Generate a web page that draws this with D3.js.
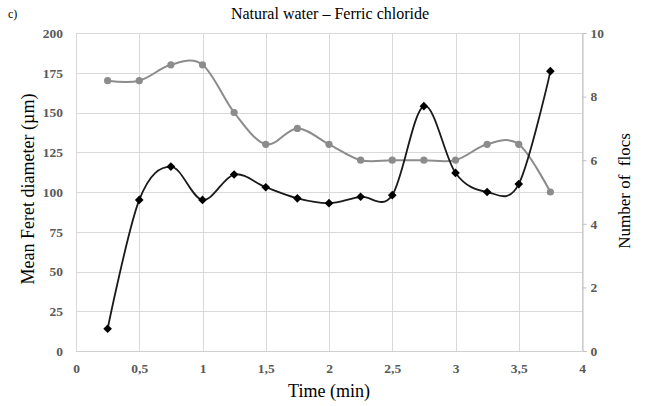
<!DOCTYPE html>
<html>
<head>
<meta charset="utf-8">
<script src="https://cdn.jsdelivr.net/npm/d3@7"></script>
<style>
  html, body { margin: 0; padding: 0; background: #fff; }
  svg { display: block; }
  svg text { font-family: "Liberation Serif", "DejaVu Serif", "Times New Roman", serif !important; }
</style>
</head>
<body>
<svg id="chart" width="645" height="406"></svg>
<script>
// ---- data ----
const times = [0.25, 0.5, 0.75, 1, 1.25, 1.5, 1.75, 2, 2.25, 2.5, 2.75, 3, 3.25, 3.5, 3.75];
const feretDiameter = [14, 95, 116, 95, 111, 103, 96, 93, 97, 98, 154, 112, 100, 105, 176];
const numberOfFlocs = [8.5, 8.5, 9, 9, 7.5, 6.5, 7, 6.5, 6, 6, 6, 6, 6.5, 6.5, 5];
const xTicks = [0, 0.5, 1, 1.5, 2, 2.5, 3, 3.5, 4];
const xTickLabels = ["0", "0,5", "1", "1,5", "2", "2,5", "3", "3,5", "4"];
const leftTicks = [0, 25, 50, 75, 100, 125, 150, 175, 200];
const rightTicks = [0, 2, 4, 6, 8, 10];
const titleText = "Natural water \u2013 Ferric chloride";
const panelLabel = "c)";
const xTitle = "Time (min)";
const leftTitle = "Mean Feret diameter (\u00b5m)";
const rightTitle = "Number of\u00a0 flocs";

// ---- layout ----
const svg = d3.select("#chart");
const L = 76, R = 582, T = 33, B = 351;

const x = d3.scaleLinear().domain([0, 4]).range([L, R]);
const yL = d3.scaleLinear().domain([0, 200]).range([B, T]);
const yR = d3.scaleLinear().domain([0, 10]).range([B, T]);

const gridColor = "#d9d9d9";
const labelColor = "#595959";

// gridlines
svg.append("g").selectAll("line").data(leftTicks).join("line")
  .attr("x1", L).attr("x2", R)
  .attr("y1", d => Math.round(yL(d)) + 0.5).attr("y2", d => Math.round(yL(d)) + 0.5)
  .attr("stroke", gridColor).attr("stroke-width", 1);
svg.append("g").selectAll("line").data(xTicks).join("line")
  .attr("y1", T).attr("y2", B)
  .attr("x1", d => Math.round(x(d)) + 0.5).attr("x2", d => Math.round(x(d)) + 0.5)
  .attr("stroke", gridColor).attr("stroke-width", 1);

// bottom axis line
svg.append("line").attr("x1", L).attr("x2", R)
  .attr("y1", B + 0.5).attr("y2", B + 0.5).attr("stroke", "#cfcfcf");

function styleLabels(sel) {
  sel.attr("fill", labelColor).attr("font-size", 13.5).attr("font-weight", "bold");
}

// right axis
const rightAxis = svg.append("g")
  .attr("transform", `translate(${Math.round(R) + 0.5},0)`)
  .call(d3.axisRight(yR).tickValues(rightTicks).tickSize(4).tickPadding(4).tickFormat(d3.format("d")));
rightAxis.select(".domain").attr("stroke", "#bfbfbf");
rightAxis.selectAll(".tick line").attr("stroke", "#bfbfbf");
styleLabels(rightAxis.selectAll("text"));

// left axis labels
const leftAxis = svg.append("g")
  .attr("transform", `translate(${L},0)`)
  .call(d3.axisLeft(yL).tickValues(leftTicks).tickSize(0).tickPadding(13));
leftAxis.select(".domain").remove();
styleLabels(leftAxis.selectAll("text"));

// bottom axis labels
const bottomAxis = svg.append("g")
  .attr("transform", `translate(0,${B})`)
  .call(d3.axisBottom(x).tickValues(xTicks).tickSize(0).tickPadding(12)
    .tickFormat((d, i) => xTickLabels[i]));
bottomAxis.select(".domain").remove();
styleLabels(bottomAxis.selectAll("text"));

// lines
const curve = d3.curveCardinal.tension(0);
const lineFlocs = d3.line().x((d, i) => x(times[i])).y(d => yR(d)).curve(curve);
const lineFeret = d3.line().x((d, i) => x(times[i])).y(d => yL(d)).curve(curve);

const grey = "#8c8c8c";
const dark = "#1a1a1a";

svg.append("path").datum(numberOfFlocs)
  .attr("d", lineFlocs).attr("fill", "none")
  .attr("stroke", grey).attr("stroke-width", 2);
svg.append("g").selectAll("circle").data(numberOfFlocs).join("circle")
  .attr("cx", (d, i) => x(times[i])).attr("cy", d => yR(d))
  .attr("r", 3.6).attr("fill", grey);

svg.append("path").datum(feretDiameter)
  .attr("d", lineFeret).attr("fill", "none")
  .attr("stroke", dark).attr("stroke-width", 1.8);
svg.append("g").selectAll("path.m").data(feretDiameter).join("path")
  .attr("class", "m")
  .attr("d", d3.symbol().type(d3.symbolDiamond2).size(48))
  .attr("transform", (d, i) => `translate(${x(times[i])},${yL(d)})`)
  .attr("fill", "#000");

// titles
svg.append("text").attr("x", 330).attr("y", 19)
  .attr("text-anchor", "middle").attr("font-size", 16).attr("fill", "#000")
  .text(titleText);
svg.append("text").attr("x", 8).attr("y", 18)
  .attr("font-size", 12).attr("fill", "#000")
  .text(panelLabel);
svg.append("text").attr("x", 329).attr("y", 397)
  .attr("text-anchor", "middle").attr("font-size", 18).attr("fill", "#000")
  .text(xTitle);
svg.append("text")
  .attr("transform", "translate(34,189) rotate(-90)")
  .attr("text-anchor", "middle").attr("font-size", 18).attr("fill", "#000")
  .text(leftTitle);
svg.append("text")
  .attr("transform", "translate(630,191) rotate(-90)")
  .attr("text-anchor", "middle").attr("font-size", 17).attr("fill", "#000")
  .text(rightTitle);
</script>
</body>
</html>
